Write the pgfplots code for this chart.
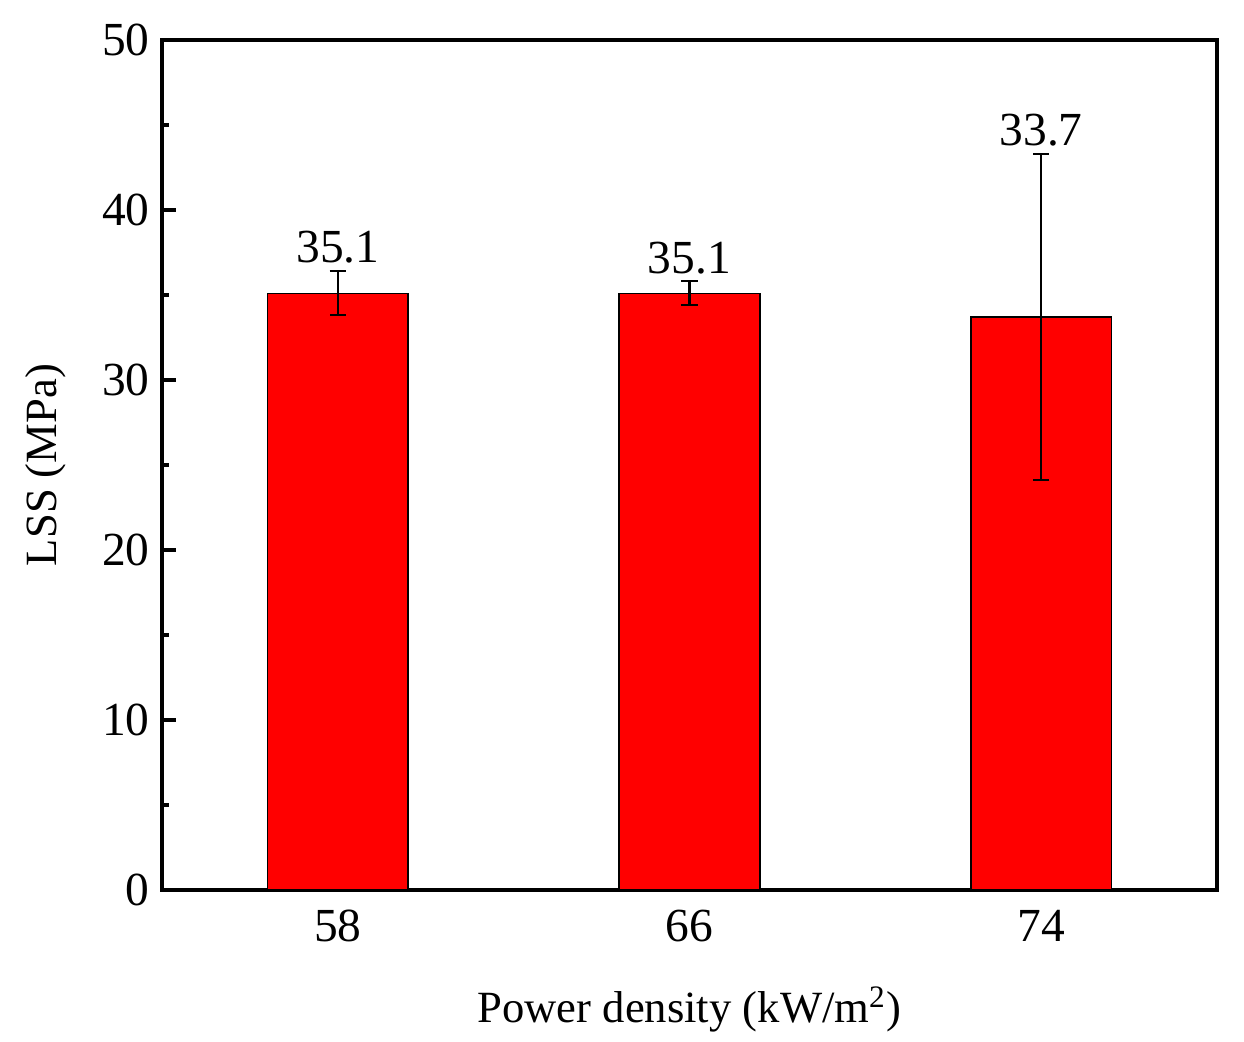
\documentclass[border=0pt]{standalone}
\usepackage{fontspec}
\setmainfont{Liberation Serif}
\usepackage{pgfplots}
\pgfplotsset{compat=1.18}

\begin{document}
\begin{tikzpicture}
\path[use as bounding box] (-1.62,-1.52) rectangle (10.82,8.90);
\begin{axis}[
  scale only axis,
  width=10.55cm, height=8.5cm,
  xmin=54, xmax=78,
  ymin=0, ymax=50,
  xtick={58,66,74},
  ytick={0,10,...,50},
  minor ytick={5,15,...,45},
  xtick pos=bottom, ytick pos=left,
  tick align=inside,
  x tick style={draw=none},
  major tick length=0.14cm,
  minor tick length=0.07cm,
  axis line style={line width=0.9pt},
  every tick/.style={black, line width=0.9pt},
  tick label style={font=\fontsize{13.5}{15}\selectfont},
  /pgf/number format/assume math mode=true,
  label style={font=\fontsize{12.7}{15}\selectfont},
  xlabel={Power density (kW/m\textsuperscript{2})},
  ylabel={LSS (MPa)},
  xlabel style={yshift=-0.2cm},
  ylabel style={yshift=0.12cm},
  xticklabel style={yshift=-0.08cm},
]
\addplot[ybar, bar width=3.2, fill=red, draw=black, line width=0.4pt,
  error bars/.cd, y dir=both, y explicit,
  error bar style={line width=0.6pt, black},
  error mark options={rotate=90, mark size=2.3pt, line width=0.6pt}]
  coordinates {
  (58,35.1) +- (0,1.3)
  (66,35.1) +- (0,0.7)
  (74,33.7) +- (0,9.6)
};
\addplot[only marks, mark=none, point meta=explicit symbolic,
  nodes near coords, nodes near coords align={above},
  every node near coord/.style={font=\fontsize{13.5}{15}\selectfont, anchor=south, inner sep=2pt}]
  coordinates {
  (58,36.4) [35.1]
  (66,35.8) [35.1]
  (74,43.3) [33.7]
};
\end{axis}
\end{tikzpicture}
\end{document}
